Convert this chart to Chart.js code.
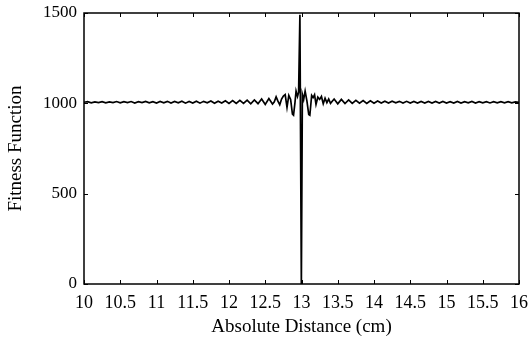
<!DOCTYPE html>
<html>
<head>
<meta charset="utf-8">
<title>Fitness Function</title>
<script src="https://cdn.jsdelivr.net/npm/chart.js@4/dist/chart.umd.min.js"></script>
<style>
    html, body { margin: 0; padding: 0; background: #fff; }
    #wrap { width: 529px; height: 346px; }
</style>
</head>
<body>
<div id="wrap"><canvas id="fitness-chart" width="529" height="346"></canvas></div>
<script>
// Sampled fitness values vs. absolute distance (cm)
const distance = [
    10.00, 10.05, 10.10, 10.15, 10.20, 10.25, 10.30, 10.35, 10.40, 10.45,
    10.50, 10.55, 10.60, 10.65, 10.70, 10.75, 10.80, 10.85, 10.90, 10.95,
    11.00, 11.05, 11.10, 11.15, 11.20, 11.25, 11.30, 11.35, 11.40, 11.45,
    11.50, 11.55, 11.60, 11.65, 11.70, 11.75, 11.80, 11.85, 11.90, 11.95,
    12.00, 12.05, 12.10, 12.15, 12.20, 12.25, 12.30, 12.35, 12.40, 12.45,
    12.50, 12.55, 12.60,
    12.625, 12.65, 12.675, 12.70, 12.725, 12.75, 12.775, 12.80, 12.825, 12.85,
    12.875, 12.89, 12.91, 12.925, 12.945, 12.96, 12.978, 12.998, 13.012, 13.03,
    13.05, 13.075, 13.10, 13.115, 13.14, 13.16, 13.18, 13.20, 13.225, 13.25,
    13.275, 13.30, 13.325, 13.35, 13.375, 13.40,
    13.45, 13.50, 13.55, 13.60, 13.65, 13.70, 13.75, 13.80, 13.85, 13.90,
    13.95, 14.00, 14.05, 14.10, 14.15, 14.20, 14.25, 14.30, 14.35, 14.40,
    14.45, 14.50, 14.55, 14.60, 14.65, 14.70, 14.75, 14.80, 14.85, 14.90,
    14.95, 15.00, 15.05, 15.10, 15.15, 15.20, 15.25, 15.30, 15.35, 15.40,
    15.45, 15.50, 15.55, 15.60, 15.65, 15.70, 15.75, 15.80, 15.85, 15.90,
    15.95, 16.00
];

const fitness = [
    1006, 1009, 1003, 1008, 1004, 1009, 1003, 1008, 1004, 1010,
    1003, 1009, 1004, 1010, 1002, 1009, 1004, 1011, 1003, 1009,
    1002, 1010, 1003, 1011, 1002, 1010, 1003, 1012, 1001, 1010,
    1002, 1012, 1001, 1011, 1003, 1013, 1000, 1012, 1002, 1014,
    1000, 1015, 999, 1016, 1000, 1018, 997, 1019, 998, 1024,
    994, 1026, 996,
    1008, 1036, 1012, 992, 1024, 1040, 1048, 978, 1044, 1022,
    940, 934, 1004, 1068, 1038, 1060, 1490, 0, 1050, 1022,
    1068, 1012, 938, 934, 1044, 1032, 1048, 994, 1034, 1022,
    1038, 998, 1028, 1004, 1024, 1000,
    1024, 997, 1022, 999, 1019, 1000, 1016, 1001, 1015, 1000,
    1014, 1001, 1013, 1002, 1012, 1002, 1012, 1003, 1011, 1002,
    1011, 1002, 1010, 1002, 1010, 1002, 1010, 1002, 1010, 1002,
    1010, 1002, 1009, 1002, 1010, 1002, 1009, 1003, 1010, 1002,
    1009, 1003, 1009, 1002, 1009, 1003, 1009, 1003, 1009, 1003,
    1008, 1005
];

const xTickLabels = ['10', '10.5', '11', '11.5', '12', '12.5', '13', '13.5', '14', '14.5', '15', '15.5', '16'];
const yTickLabels = ['0', '500', '1000', '1500'];

const FONT_FAMILY = "'Liberation Serif', 'Times New Roman', serif";

/**
 * Draw the box around the plot area and the inward tick marks
 */
const boxTicksPlugin = {
    id: 'boxTicks',
    afterDraw(chart) {
        const { ctx, chartArea } = chart;
        const { left, right, top, bottom } = chartArea;
        const xScale = chart.scales.x;
        const yScale = chart.scales.y;
        const len = 4;

        ctx.save();
        ctx.strokeStyle = '#000';
        ctx.lineWidth = 1;
        ctx.beginPath();
        xScale.ticks.forEach(function(tick) {
            const px = Math.round(xScale.getPixelForValue(tick.value)) + 0.5;
            ctx.moveTo(px, bottom);
            ctx.lineTo(px, bottom - len);
            ctx.moveTo(px, top);
            ctx.lineTo(px, top + len);
        });
        yScale.ticks.forEach(function(tick) {
            const py = Math.round(yScale.getPixelForValue(tick.value)) + 0.5;
            ctx.moveTo(left, py);
            ctx.lineTo(left + len, py);
            ctx.moveTo(right, py);
            ctx.lineTo(right - len, py);
        });
        ctx.stroke();

        ctx.lineWidth = 1.5;
        ctx.strokeRect(left, top, right - left, bottom - top);
        ctx.restore();
    }
};

function initFitnessChart() {
    const canvas = document.getElementById('fitness-chart');
    if (!canvas) return;

    const points = distance.map(function(d, i) {
        return { x: d, y: fitness[i] };
    });

    new Chart(canvas, {
        type: 'line',
        data: {
            datasets: [{
                data: points,
                borderColor: '#000',
                borderWidth: 1.7,
                pointRadius: 0,
                tension: 0,
                fill: false
            }]
        },
        options: {
            responsive: false,
            animation: false,
            devicePixelRatio: 1,
            layout: { padding: { top: 13, right: 10, left: 0, bottom: 0 } },
            plugins: {
                legend: { display: false },
                tooltip: { enabled: false }
            },
            scales: {
                x: {
                    type: 'linear',
                    min: 10,
                    max: 16,
                    afterFit: function(scale) {
                        scale.height = 62;
                        scale.paddingLeft = 0;
                        scale.paddingRight = 0;
                    },
                    grid: { display: false, drawTicks: false },
                    border: { display: false },
                    ticks: {
                        stepSize: 0.5,
                        autoSkip: false,
                        maxRotation: 0,
                        padding: 8,
                        color: '#000',
                        font: { family: FONT_FAMILY, size: 18 },
                        callback: function(value, index) { return xTickLabels[index]; }
                    },
                    title: {
                        display: true,
                        text: 'Absolute Distance (cm)',
                        color: '#000',
                        font: { family: FONT_FAMILY, size: 19, lineHeight: 1 },
                        padding: { top: 0, bottom: 9 }
                    }
                },
                y: {
                    min: 0,
                    max: 1500,
                    afterFit: function(scale) {
                        scale.width = 84;
                        scale.paddingTop = 0;
                        scale.paddingBottom = 0;
                    },
                    grid: { display: false, drawTicks: false },
                    border: { display: false },
                    ticks: {
                        stepSize: 500,
                        padding: 7,
                        color: '#000',
                        font: { family: FONT_FAMILY, size: 17 },
                        callback: function(value, index) { return yTickLabels[index]; }
                    },
                    title: {
                        display: true,
                        text: 'Fitness Function',
                        color: '#000',
                        font: { family: FONT_FAMILY, size: 19, lineHeight: 1 },
                        padding: { top: 7, bottom: 0 }
                    }
                }
            }
        },
        plugins: [boxTicksPlugin]
    });
}

document.addEventListener('DOMContentLoaded', function() {
    initFitnessChart();
});
</script>
</body>
</html>
